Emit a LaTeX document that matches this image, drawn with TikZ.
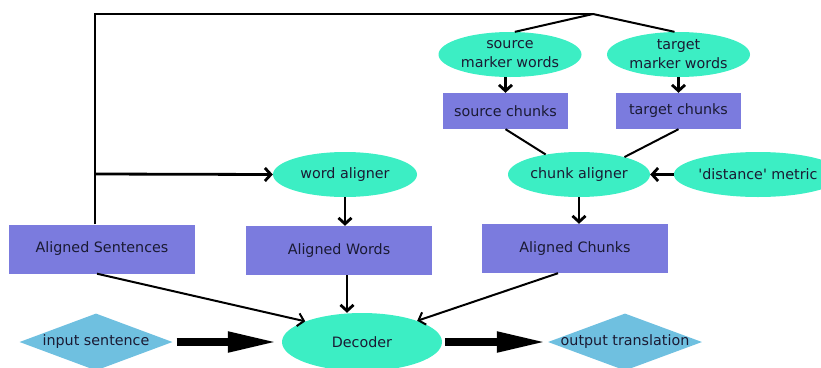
\documentclass[tikz,border=0pt]{standalone}
\usepackage{fontspec}
\setmainfont{DejaVu Sans}
\usetikzlibrary{shapes.geometric,arrows.meta}
\definecolor{ellc}{HTML}{3CEEC4}
\definecolor{boxc}{HTML}{7B7BDE}
\definecolor{diac}{HTML}{6FC0E0}
\definecolor{txtc}{HTML}{1A1A33}
\begin{document}
\begin{tikzpicture}[x=1pt,y=-1pt,
  every node/.style={font=\fontsize{14.3}{19}\selectfont, text=txtc, inner sep=0pt},
  ell/.style={ellipse, fill=ellc, minimum width=143pt, minimum height=45pt, align=center},
  box/.style={rectangle, fill=boxc, minimum width=186pt, minimum height=49pt},
  sbox/.style={rectangle, fill=boxc, minimum width=125pt, minimum height=36pt},
  dia/.style={diamond, fill=diac, aspect=2.7, minimum width=153pt, minimum height=57pt},
  conn/.style={line width=2.8pt},
  thin/.style={line width=2pt},
  arr/.style={conn, -{Straight Barb[length=6pt,width=13pt]}},
  tarr/.style={thin, -{Straight Barb[length=6pt,width=13pt]}},
  big/.style={line width=8pt, -{Triangle[length=50pt,width=19pt]}},
]
\useasboundingbox (0,0) rectangle (821,367);
\clip (0,0) rectangle (821,367);
% nodes
\node[ell] (smw) at (510,54.5) {source\\marker words};
\node[ell] (tmw) at (678.5,54.5) {target\\marker words};
\node[sbox] (sc) at (505.5,111) {source chunks};
\node[sbox] (tc) at (678.5,111) {target chunks};
\node[ell, minimum width=144pt] (wa) at (345,174.5) {word aligner};
\node[ell, minimum width=142pt] (ca) at (579,174.5) {chunk aligner};
\node[ell, minimum width=138pt] (dm) at (758,174.5) {\textquotesingle distance\textquotesingle\ metric};
\node[box] (as) at (102,249) {Aligned Sentences};
\node[box] (aw) at (339,250.5) {Aligned Words};
\node[box] (ac) at (575,248.5) {Aligned Chunks};
\node[ellipse, fill=ellc, minimum width=160pt, minimum height=58pt] (dec) at (362,342) {Decoder};
\node[dia] (isd) at (96,342) {\makebox[0pt]{input sentence}};
\node[dia, minimum width=154pt] (osd) at (625,342) {\makebox[0pt]{output translation}};
% coordinates
\coordinate (J) at (593,14);
\coordinate (B) at (95,174);
% connectors
\draw[conn] ([xshift=-7pt]as.north) |- (J);
\draw[thin] (J) -- (smw.78);
\draw[thin] (J) -- (tmw.100);
\draw[arr] (B) -- (wa.west);
\draw[arr] (sc.north |- smw.south) -- (sc.north);
\draw[arr] (tc.north |- tmw.south) -- (tc.north);
\draw[thin] (sc.south) -- (ca.149);
\draw[thin] (tc.south) -- (ca.21);
\draw[arr] (dm.west) -- (ca.east);
\draw[arr] (ca.south) -- (ca.south |- ac.north);
\draw[arr] (wa.south) -- (wa.south |- aw.north);
\draw[arr] ([xshift=8pt]aw.south) -- ([xshift=8pt]aw.south |- dec.north);
\draw[tarr] ([xshift=-5pt]as.south) -- (dec.160);
\draw[tarr] ([xshift=-17pt]ac.south) -- (dec.21);
\draw[big, shorten <=4pt, shorten >=4pt] (isd.east) -- (dec.west);
\draw[big, shorten <=3pt, shorten >=1pt] (dec.east) -- (osd.west);
\end{tikzpicture}
\end{document}
